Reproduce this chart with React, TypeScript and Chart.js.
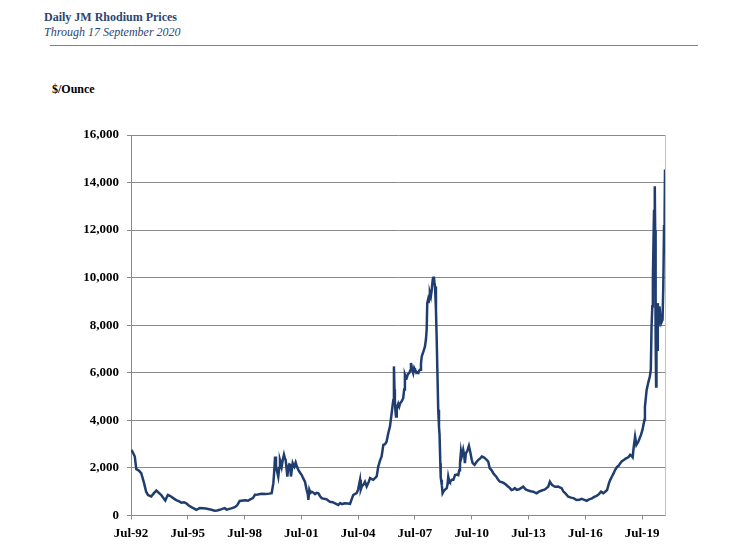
import React, { useEffect, useRef } from 'react';
import { Chart, registerables } from 'chart.js';

Chart.register(...registerables);

// Decimal years (Jul-92 = 1992.5) and JM rhodium price in $/oz
const dates = [
  1992.52, 1992.6, 1992.7, 1992.78, 1992.9, 1993.04, 1993.19, 1993.3, 1993.4, 1993.57,
  1993.7, 1993.84, 1993.97, 1994.1, 1994.22, 1994.31, 1994.38, 1994.45, 1994.55, 1994.63,
  1994.75, 1994.89, 1995.02, 1995.16, 1995.3, 1995.42, 1995.55, 1995.69, 1995.82, 1995.95,
  1996.05, 1996.13, 1996.3, 1996.45, 1996.57, 1996.75, 1996.92, 1997.05, 1997.19, 1997.32,
  1997.45, 1997.55, 1997.62, 1997.8, 1997.98, 1998.1, 1998.24, 1998.42, 1998.55, 1998.68,
  1998.8, 1998.94, 1999.05, 1999.2, 1999.4, 1999.6, 1999.8, 1999.93, 2000.02, 2000.07,
  2000.11, 2000.16, 2000.2, 2000.28, 2000.33, 2000.37, 2000.42, 2000.46, 2000.52, 2000.58,
  2000.63, 2000.67, 2000.72, 2000.76, 2000.81, 2000.86, 2000.9, 2000.95, 2001.0, 2001.04,
  2001.09, 2001.13, 2001.2, 2001.27, 2001.34, 2001.43, 2001.52, 2001.6, 2001.69, 2001.78,
  2001.84, 2001.87, 2001.92, 2001.98, 2002.05, 2002.14, 2002.22, 2002.3, 2002.4, 2002.48,
  2002.57, 2002.7, 2002.84, 2002.93, 2003.01, 2003.15, 2003.28, 2003.36, 2003.45, 2003.55,
  2003.65, 2003.8, 2003.95, 2004.07, 2004.16, 2004.24, 2004.32, 2004.42, 2004.5, 2004.6,
  2004.64, 2004.69, 2004.78, 2004.86, 2004.95, 2005.05, 2005.13, 2005.22, 2005.3, 2005.4,
  2005.48, 2005.56, 2005.65, 2005.74, 2005.83, 2005.92, 2006.0, 2006.09, 2006.18, 2006.27,
  2006.33, 2006.36, 2006.39, 2006.42, 2006.44, 2006.47, 2006.5, 2006.54, 2006.57, 2006.62,
  2006.67, 2006.72, 2006.8, 2006.88, 2006.93, 2006.97, 2007.02, 2007.06, 2007.13, 2007.2,
  2007.25, 2007.29, 2007.34, 2007.41, 2007.46, 2007.5, 2007.57, 2007.62, 2007.68, 2007.73,
  2007.77, 2007.82, 2007.86, 2007.95, 2008.03, 2008.08, 2008.12, 2008.15, 2008.19, 2008.22,
  2008.26, 2008.29, 2008.34, 2008.39, 2008.44, 2008.47, 2008.5, 2008.53, 2008.56, 2008.61,
  2008.65, 2008.68, 2008.73, 2008.77, 2008.8, 2008.84, 2008.86, 2008.88, 2008.92, 2008.96,
  2009.0, 2009.08, 2009.18, 2009.22, 2009.26, 2009.3, 2009.35, 2009.45, 2009.53, 2009.62,
  2009.7, 2009.79, 2009.84, 2009.88, 2009.93, 2009.97, 2010.01, 2010.05, 2010.1, 2010.14,
  2010.19, 2010.26, 2010.35, 2010.4, 2010.45, 2010.5, 2010.55, 2010.65, 2010.75, 2010.85,
  2010.95, 2011.03, 2011.12, 2011.2, 2011.3, 2011.37, 2011.45, 2011.55, 2011.64, 2011.72,
  2011.8, 2011.9, 2011.99, 2012.1, 2012.2, 2012.3, 2012.43, 2012.52, 2012.6, 2012.7,
  2012.78, 2012.88, 2013.0, 2013.1, 2013.22, 2013.35, 2013.49, 2013.62, 2013.75, 2013.85,
  2013.93, 2014.05, 2014.2, 2014.3, 2014.37, 2014.45, 2014.54, 2014.63, 2014.68, 2014.75,
  2014.9, 2015.07, 2015.15, 2015.25, 2015.35, 2015.45, 2015.6, 2015.75, 2015.9, 2016.04,
  2016.18, 2016.3, 2016.45, 2016.57, 2016.7, 2016.85, 2016.97, 2017.1, 2017.22, 2017.33,
  2017.45, 2017.55, 2017.65, 2017.75, 2017.82, 2017.9, 2018.0, 2018.07, 2018.18, 2018.25,
  2018.35, 2018.42, 2018.55, 2018.65, 2018.77, 2018.87, 2018.95, 2019.0, 2019.06, 2019.13,
  2019.2, 2019.3, 2019.44, 2019.52, 2019.62, 2019.65, 2019.74, 2019.83, 2019.91, 2019.96,
  2020.0, 2020.04, 2020.07, 2020.1, 2020.13, 2020.17, 2020.19, 2020.21, 2020.22, 2020.24,
  2020.26, 2020.29, 2020.33, 2020.37, 2020.42, 2020.47, 2020.51, 2020.58, 2020.62, 2020.66,
  2020.69, 2020.71,
];

const prices = [
  2760, 2650, 2480, 1950, 1900, 1780, 1360, 1000, 860, 800,
  930, 1050, 950, 860, 720, 630, 760, 870, 830, 790,
  720, 650, 600, 540, 560, 510, 420, 350, 300, 240,
  280, 310, 300, 290, 270, 240, 200, 210, 240, 280,
  310, 250, 260, 300, 350, 420, 610, 630, 640, 620,
  680, 730, 870, 880, 910, 900, 920, 940, 1360, 1900,
  2480, 2100, 1920, 1630, 2000, 2340, 2200, 2050, 2350, 2560,
  2400, 2340, 1950, 1630, 2050, 2150, 2130, 1640, 1950, 2200,
  2100, 2050, 2230, 2050, 1920, 1800, 1700, 1560, 1420, 1070,
  900, 660, 1080, 950, 1000, 960, 900, 950, 930, 820,
  730, 700, 680, 620, 580, 560, 510, 480, 440, 520,
  480, 510, 500, 490, 690, 860, 900, 940, 1100, 1500,
  1100, 1220, 1300, 1420, 1220, 1400, 1570, 1530, 1500, 1580,
  1640, 2050, 2300, 2480, 2970, 3000, 3100, 3460, 3740, 4300,
  4700, 4860, 6270, 5300, 4860, 4400, 4160, 4600, 4580, 4700,
  4580, 4720, 4800, 4930, 5300, 5920, 5800, 5780, 5950, 5990,
  6100, 6410, 6200, 5990, 6200, 6130, 6050, 6000, 5990, 6100,
  6130, 6400, 6690, 6900, 7110, 7400, 7810, 8930, 9070, 8930,
  9150, 9360, 9210, 9500, 9920, 10000, 10050, 9800, 9630, 8650,
  7400, 6270, 4440, 3740, 3400, 2200, 1630, 1500, 1280, 940,
  1000, 1080, 1150, 1300, 1630, 1480, 1420, 1500, 1500, 1700,
  1720, 1700, 1900, 2200, 2690, 2480, 2600, 2760, 2550, 2200,
  2620, 2700, 2930, 2750, 2550, 2350, 2200, 2130, 2250, 2340,
  2400, 2480, 2450, 2410, 2330, 2270, 1990, 1900, 1780, 1700,
  1630, 1500, 1420, 1400, 1360, 1300, 1210, 1150, 1070, 1100,
  1150, 1080, 1100, 1150, 1210, 1100, 1050, 1020, 1000, 960,
  935, 1000, 1050, 1080, 1100, 1150, 1210, 1420, 1350, 1280,
  1210, 1220, 1180, 1150, 1000, 930, 790, 750, 720, 650,
  660, 700, 660, 620, 680, 720, 780, 820, 900, 1000,
  940, 1000, 1070, 1360, 1500, 1630, 1780, 1910, 2050, 2080,
  2200, 2270, 2340, 2400, 2450, 2550, 2500, 2450, 2900, 3320,
  2970, 3100, 3390, 3600, 4020, 4580, 5280, 5600, 5840, 6130,
  7950, 8800, 9900, 11460, 12800, 13840, 12000, 10050, 7500, 5420,
  8510, 6970, 8930, 7950, 8790, 8300, 8090, 8230, 9630, 12160,
  12580, 14550,
];

const xTickValues = [1992.5, 1995.5, 1998.5, 2001.5, 2004.5, 2007.5, 2010.5, 2013.5, 2016.5, 2019.5];
const xTickLabels = ['Jul-92', 'Jul-95', 'Jul-98', 'Jul-01', 'Jul-04', 'Jul-07', 'Jul-10', 'Jul-13', 'Jul-16', 'Jul-19'];
const xMin = 1992.5;
const xMax = 2020.71;
const yMin = 0;
const yMax = 16000;
const yStep = 2000;

const titleText = 'Daily JM Rhodium Prices';
const subtitleText = 'Through 17 September 2020';
const unitText = '$/Ounce';

const SERIF = "'Liberation Serif', 'Times New Roman', serif";

export default function App() {
  const ref = useRef<HTMLCanvasElement>(null);

  useEffect(() => {
    if (!ref.current) return;
    const rightBorder = {
      id: 'rightBorder',
      beforeDatasetsDraw(chart: any) {
        const { ctx, chartArea: a } = chart;
        ctx.save();
        ctx.strokeStyle = '#c0c0c0';
        ctx.lineWidth = 1;
        const x = Math.round(a.right) + 0.5;
        ctx.beginPath();
        ctx.moveTo(x, a.top);
        ctx.lineTo(x, a.bottom);
        ctx.stroke();
        ctx.restore();
      },
    };
    const chart = new Chart(ref.current, {
      type: 'line',
      data: {
        datasets: [
          {
            data: dates.map((d, i) => ({ x: d, y: prices[i] })),
            borderColor: '#1f3d6e',
            backgroundColor: '#1f3d6e',
            borderWidth: 2.5,
            pointRadius: 0,
            tension: 0,
            fill: false,
          },
        ],
      },
      options: {
        animation: false,
        responsive: false,
        devicePixelRatio: 1,
        layout: { padding: { left: 0, top: 135, right: 79, bottom: 0 } },
        plugins: { legend: { display: false }, tooltip: { enabled: false } },
        scales: {
          x: {
            type: 'linear',
            min: xMin,
            max: xMax,
            afterBuildTicks: (scale: any) => {
              scale.ticks = xTickValues.map((v) => ({ value: v }));
            },
            afterFit: (scale: any) => {
              scale.height = 36.5;
            },
            grid: {
              display: true,
              drawOnChartArea: false,
              drawTicks: true,
              tickLength: 4,
              color: '#8a8a8a',
            },
            border: { display: true, color: '#8a8a8a', width: 1 },
            ticks: {
              autoSkip: false,
              maxRotation: 0,
              padding: 6,
              color: '#000',
              font: { family: SERIF, size: 13, weight: 'bold' },
              callback: (v: any) => {
                const i = xTickValues.indexOf(Number(v));
                return i >= 0 ? xTickLabels[i] : '';
              },
            },
          },
          y: {
            type: 'linear',
            min: yMin,
            max: yMax,
            afterFit: (scale: any) => {
              scale.width = 131;
            },
            grid: {
              color: '#8a8a8a',
              lineWidth: 1,
              drawTicks: true,
              tickLength: 4,
            },
            border: { display: true, color: '#8a8a8a', width: 1 },
            ticks: {
              stepSize: yStep,
              padding: 8,
              color: '#000',
              font: { family: SERIF, size: 13, weight: 'bold' },
              callback: (v: any) => Number(v).toLocaleString('en-US'),
            },
          },
        },
      },
      plugins: [rightBorder],
    } as any);
    return () => chart.destroy();
  }, []);

  return (
    <div style={{ position: 'absolute', left: 0, top: 0, width: 744, height: 552, background: '#fff' }}>
      <div
        style={{
          position: 'absolute', left: 44, top: 10.6, fontFamily: SERIF, fontSize: 12, lineHeight: '12px',
          fontWeight: 'bold', color: '#2b4573', whiteSpace: 'nowrap',
        }}
      >
        {titleText}
      </div>
      <div
        style={{
          position: 'absolute', left: 44, top: 25.6, fontFamily: SERIF, fontSize: 12, lineHeight: '12px',
          fontStyle: 'italic', color: '#2b4573', whiteSpace: 'nowrap',
        }}
      >
        {subtitleText}
      </div>
      <div style={{ position: 'absolute', left: 50, top: 44.5, width: 648, height: 1, background: '#808080' }} />
      <div
        style={{
          position: 'absolute', left: 52, top: 83.2, fontFamily: SERIF, fontSize: 12, lineHeight: '12px',
          fontWeight: 'bold', color: '#000', whiteSpace: 'nowrap',
        }}
      >
        {unitText}
      </div>
      <canvas ref={ref} width={744} height={552} style={{ position: 'absolute', left: 0, top: 0, width: 744, height: 552 }} />
    </div>
  );
}
